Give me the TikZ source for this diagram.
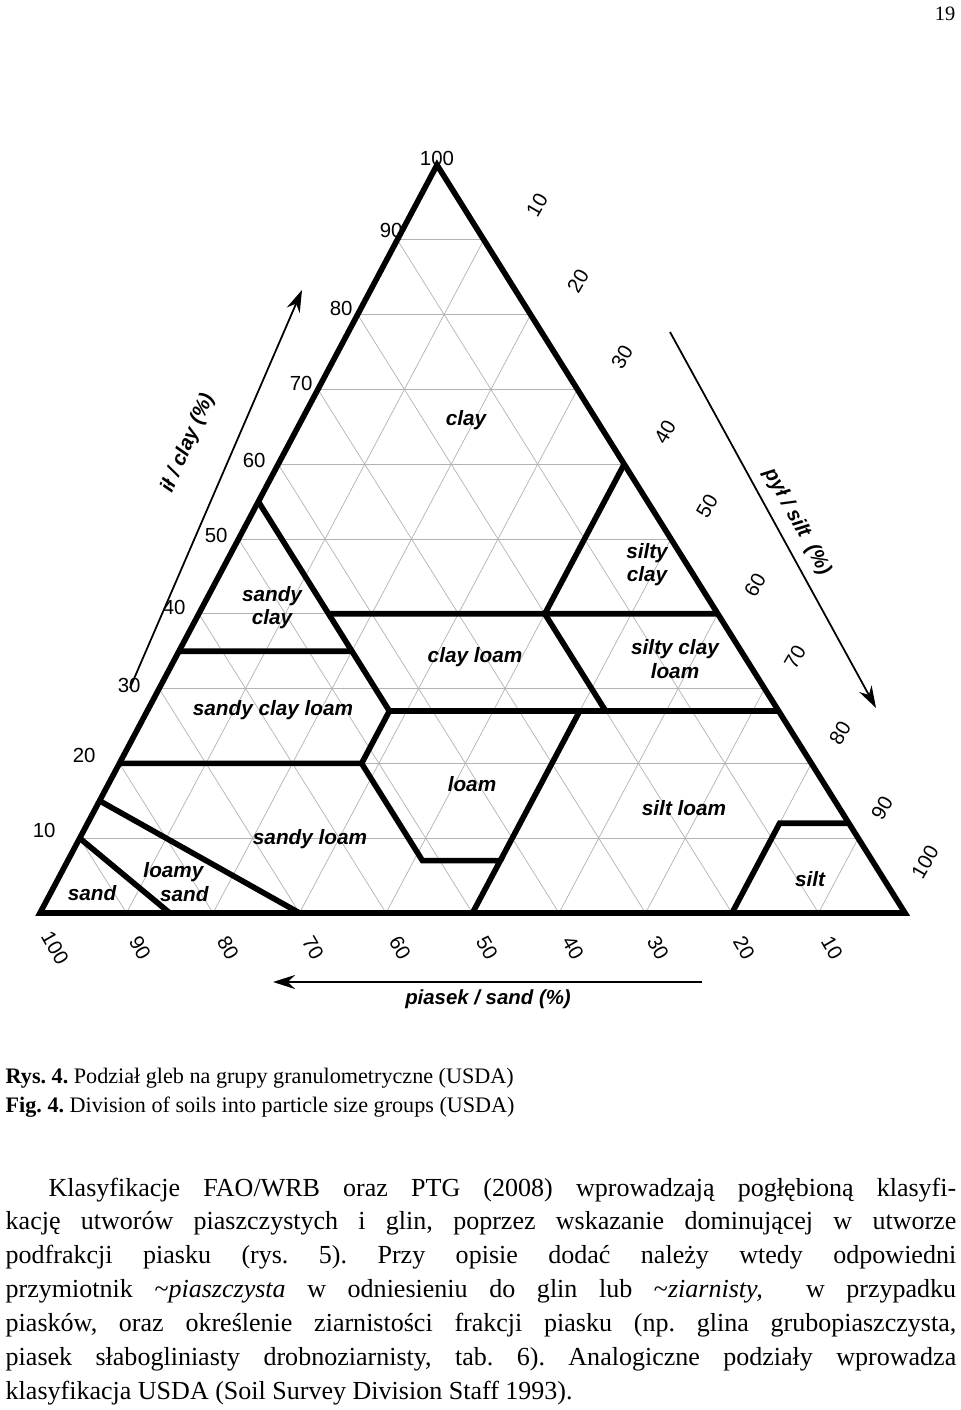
\documentclass[tikz,border=0pt]{standalone}
\usepackage{fontspec}
\setmainfont{Liberation Serif}
\newfontfamily\arialf{Liberation Sans}
\usetikzlibrary{arrows.meta, positioning}

\newcommand{\tp}[3]{barycentric cs:BL=#1,BR=#2,A=#3}

\begin{document}
\frenchspacing
\begin{tikzpicture}[
    x=0.01cm, y=-0.01cm,
    grid/.style={gray!60, line width=0.2pt},
    bound/.style={line width=1.6pt, line join=miter},
    region/.style={font=\arialf\bfseries\itshape\fontsize{5.9}{6.6}\selectfont, align=center},
    tick/.style={font=\arialf\fontsize{5.8}{6.5}\selectfont},
    axis/.style={-{Stealth[length=2.2mm, width=1.4mm]}, line width=0.5pt},
    axislabel/.style={font=\arialf\bfseries\itshape\fontsize{5.8}{6.5}\selectfont},
    body/.style={anchor=west, inner sep=0pt, font=\fontsize{7.4}{8.4}\selectfont},
    caption/.style={anchor=west, inner sep=0pt, font=\fontsize{6.3}{7}\selectfont}
]
\useasboundingbox (0,0) rectangle (960,1410);

% wierzcholki trojkata
\coordinate (A) at (437,165);
\coordinate (BL) at (40,913);
\coordinate (BR) at (905,913);

% siatka co 10 %
\foreach \i in {1,...,9} {
    \pgfmathsetmacro{\p}{\i/10}
    \pgfmathsetmacro{\q}{1-\i/10}
    \draw[grid] (\tp{\q}{0}{\p}) -- (\tp{0}{\q}{\p});
    \draw[grid] (\tp{\p}{\q}{0}) -- (\tp{\p}{0}{\q});
    \draw[grid] (\tp{\q}{\p}{0}) -- (\tp{0}{\p}{\q});
}

% obrys
\draw[bound] (A) -- (BL) -- (BR) -- cycle;

% granice klas (piasek, pyl, il)
\draw[bound] (\tp{.45}{0}{.55}) -- (\tp{.45}{.28}{.27}) -- (\tp{.52}{.28}{.20}) -- (\tp{.80}{0}{.20});
\draw[bound] (\tp{.65}{0}{.35}) -- (\tp{.45}{.20}{.35});
\draw[bound] (\tp{.45}{.15}{.40}) -- (\tp{0}{.60}{.40});
\draw[bound] (\tp{0}{.40}{.60}) -- (\tp{.20}{.40}{.40}) -- (\tp{.20}{.53}{.27});
\draw[bound] (\tp{.45}{.28}{.27}) -- (\tp{0}{.73}{.27});
\draw[bound] (\tp{.52}{.28}{.20}) -- (\tp{.52}{.41}{.07}) -- (\tp{.43}{.50}{.07}) -- (\tp{.50}{.50}{0});
\draw[bound] (\tp{.23}{.50}{.27}) -- (\tp{.43}{.50}{.07});
\draw[bound] (\tp{.20}{.80}{0}) -- (\tp{.08}{.80}{.12}) -- (\tp{0}{.88}{.12});
\draw[bound] (\tp{.85}{.15}{0}) -- (\tp{.90}{0}{.10});
\draw[bound] (\tp{.70}{.30}{0}) -- (\tp{.85}{0}{.15});

% nazwy klas
\node[region] (clay) at (466,420) {clay};
\node[region] (siltyclay) at (647,565) {silty\\clay};
\node[region] (sandyclay) at (272,608) {sandy\\clay};
\node[region] (clayloam) at (475,657) {clay loam};
\node[region] (siltyclayloam) at (675,659) {silty clay\\loam};
\node[region] (sandyclayloam) at (273,710) {sandy clay loam};
\node[region] (loam) at (472,784) {loam};
\node[region] (siltloam) at (684,808) {silt loam};
\node[region] (sandyloam) at (310,839) {sandy loam};
\node[region, align=left] (loamysand) at (176,882) {loamy\\\hspace*{0.8em}sand};
\node[region] (sand) at (92,893) {sand};
\node[region] (silt) at (810,879) {silt};

% podzialka
\foreach \v/\x/\y in {10/50/830, 20/90/755, 30/135/685, 40/180/607, 50/222/535,
    60/260/460, 70/307/383, 80/347/308, 90/397/230}
    \node[tick, anchor=east] at (\x+18,\y) {\v};
\node[tick] at (437,158) {100};
\foreach \v/\x/\y in {10/537/205, 20/578/281, 30/622/357, 40/665/432, 50/707/506,
    60/755/585, 70/795/657, 80/840/733, 90/882/808, 100/925/862}
    \node[tick, rotate=60] at (\x,\y) {\v};
\foreach \v/\x/\y in {100/55/948, 90/140/948, 80/228/948, 70/313/948, 60/400/948,
    50/487/948, 40/573/948, 30/658/948, 20/744/948, 10/832/948}
    \node[tick, rotate=-60] at (\x,\y) {\v};

% osie
\coordinate (clayfrom) at (130,688);
\coordinate (clayto) at (302,290);
\draw[axis] (clayfrom) -- (clayto);
\node[axislabel, rotate=66.5] (claylab) at (188,443) {ił / clay (\%)};
\coordinate (siltfrom) at (670,332);
\coordinate (siltto) at (876,708);
\draw[axis] (siltfrom) -- (siltto);
\node[axislabel, rotate=-61.3] (siltlab) at (797,522) {pył / silt \ (\%)};
\coordinate (sandfrom) at (702,982);
\coordinate (sandto) at (273,982);
\draw[axis] (sandfrom) -- (sandto);
\node[axislabel] (sandlab) at (488,999) {piasek / sand (\%)};

% numer strony i podpis
\node[font=\fontsize{5.8}{6.5}\selectfont] (page) at (945,14) {19};
\node[caption] (rys) at (5,1078) {\textbf{Rys. 4.} Podział gleb na grupy granulometryczne (USDA)};
\node[caption] (fig) at (5,1107) {\textbf{Fig. 4.} Division of soils into particle size groups (USDA)};

% tekst
\node[body] (l1) at (48,1190) {\makebox[9.07cm][s]{Klasyfikacje FAO/WRB oraz PTG (2008) wprowadzają pogłębioną klasyfi-}};
\node[body] (l2) at (5,1223) {\makebox[9.5cm][s]{kację utworów piaszczystych i glin, poprzez wskazanie dominującej w utworze}};
\node[body] (l3) at (5,1257) {\makebox[9.5cm][s]{podfrakcji piasku (rys. 5). Przy opisie dodać należy wtedy odpowiedni}};
\node[body] (l4) at (5,1291) {\makebox[9.5cm][s]{przymiotnik \textasciitilde\textit{piaszczysta} w odniesieniu do glin lub \textasciitilde\textit{ziarnisty,} \ w przypadku}};
\node[body] (l5) at (5,1325) {\makebox[9.5cm][s]{piasków, oraz określenie ziarnistości frakcji piasku (np. glina grubopiaszczysta,}};
\node[body] (l6) at (5,1359) {\makebox[9.5cm][s]{piasek słabogliniasty drobnoziarnisty, tab. 6). Analogiczne podziały wprowadza}};
\node[body] (l7) at (5,1393) {klasyfikacja USDA (Soil Survey Division Staff 1993).};
\end{tikzpicture}
\end{document}
